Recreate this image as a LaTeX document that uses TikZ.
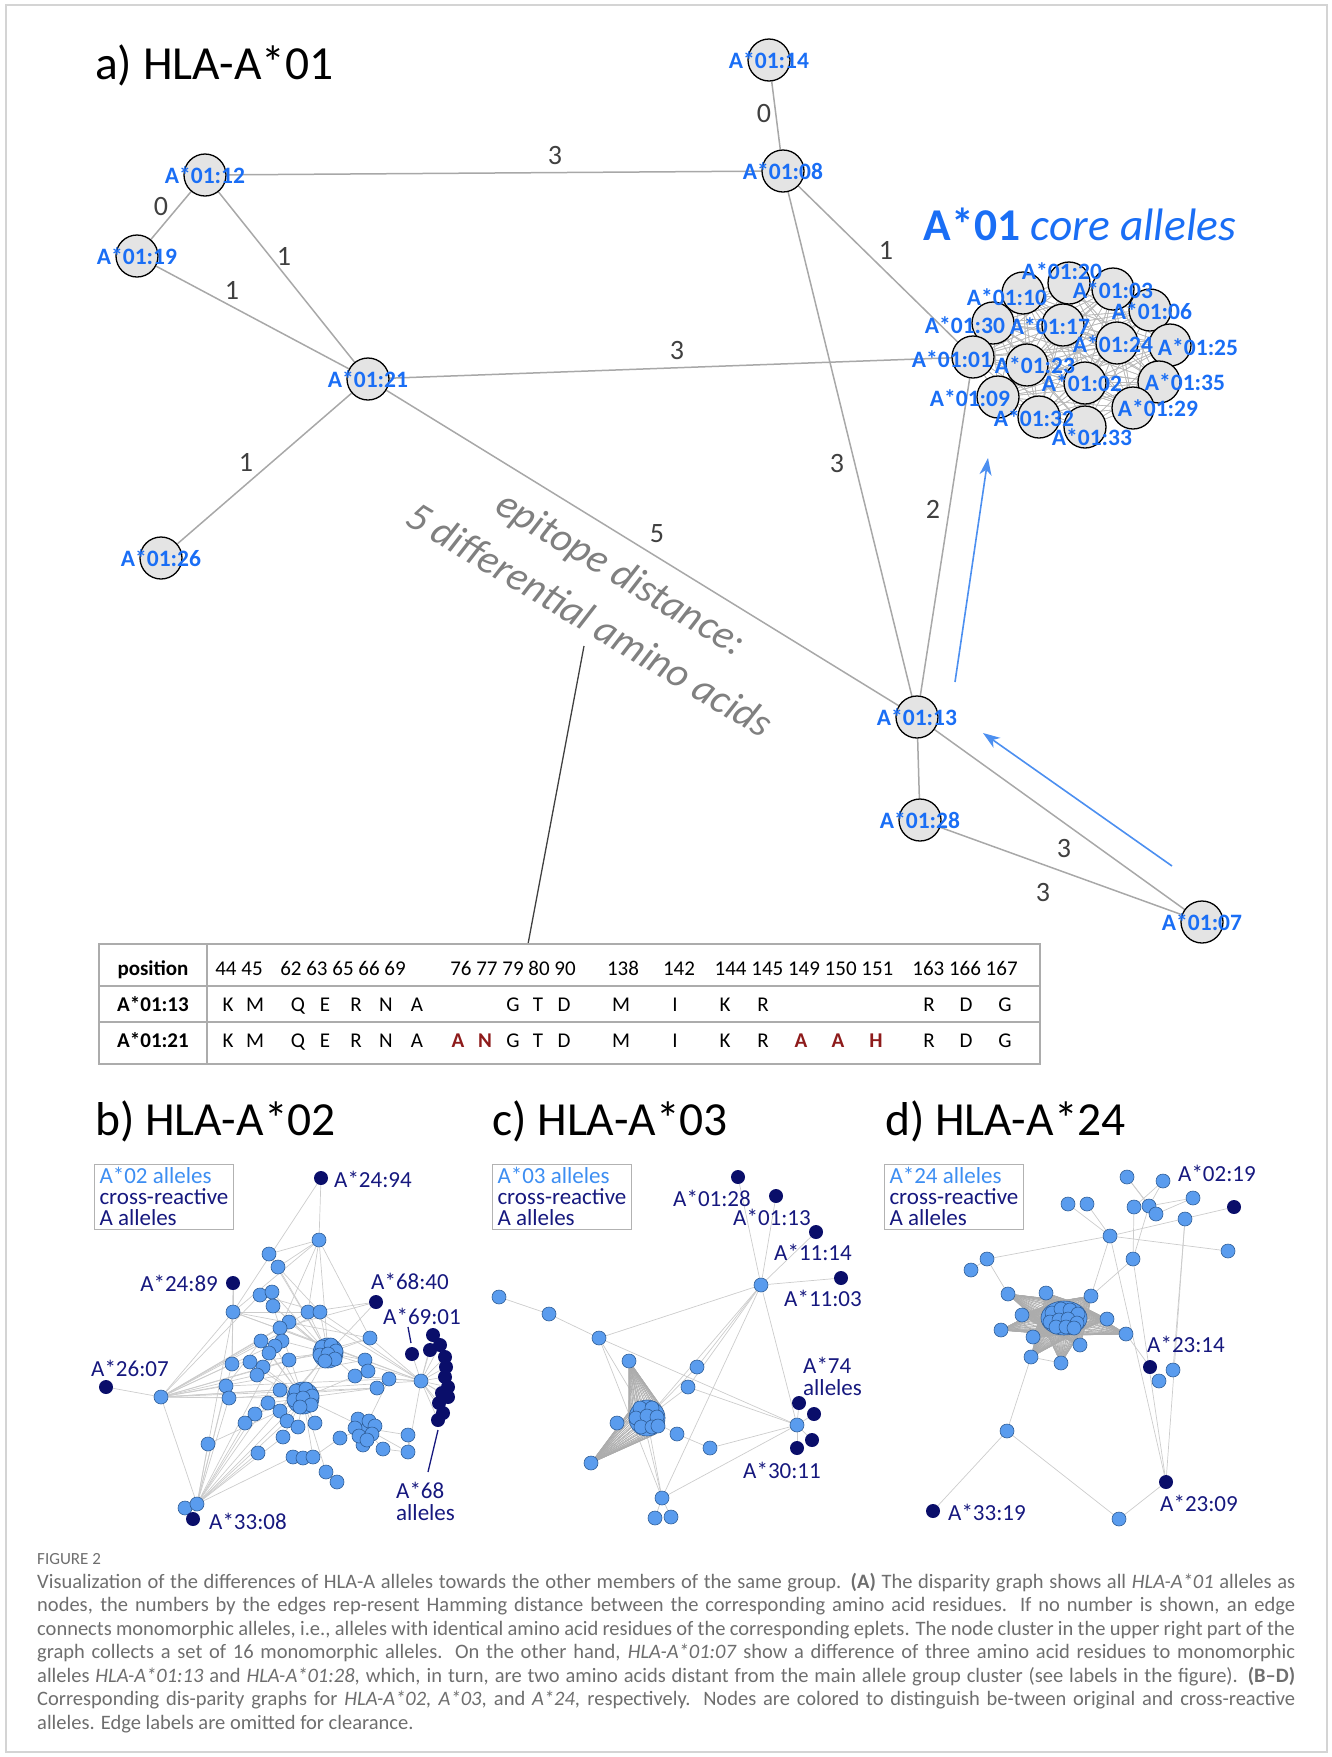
\documentclass[tikz,border=0pt]{standalone}
\usepackage{fontspec}
\setmainfont{Carlito}
\usetikzlibrary{arrows.meta,backgrounds,shapes.geometric}

\definecolor{hlablue}{HTML}{1A6EF5}
\definecolor{linkgray}{HTML}{A8A8A8}
\definecolor{numgray}{HTML}{404040}
\definecolor{cellgray}{HTML}{E4E4E4}
\definecolor{nodeblue}{HTML}{5A9CEE}
\definecolor{nodeedge}{HTML}{2F5D96}
\definecolor{navy}{HTML}{0A0E6A}
\definecolor{navytext}{HTML}{16187E}
\definecolor{legendblue}{HTML}{3D8EF2}
\definecolor{arrowblue}{HTML}{4C8FF0}
\definecolor{epigray}{HTML}{808080}
\definecolor{capgray}{HTML}{6E6E6E}
\definecolor{resred}{HTML}{8E1B1B}
\definecolor{framegray}{HTML}{D4D4D4}

\tikzset{
  allele/.style={circle,draw=black,fill=cellgray,line width=1.3pt,minimum size=42pt,inner sep=0pt},
  alab/.style={font=\bfseries\fontsize{23.5}{25}\selectfont,text=hlablue,inner sep=0pt},
  link/.style={draw=linkgray,line width=1.5pt},
  corelink/.style={draw=gray!55,line width=0.6pt},
  elab/.style={font=\fontsize{28}{30}\selectfont,text=numgray,inner sep=0pt},
  paneltitle/.style={font=\fontsize{47.5}{50}\selectfont,anchor=base west,inner sep=0pt},
  epi/.style={font=\itshape\fontsize{41}{43}\selectfont,text=epigray,inner sep=0pt,rotate=-31},
  flow/.style={draw=arrowblue,line width=1.6pt,-{Stealth[length=17pt,width=12pt,inset=5pt]}},
  tabline/.style={draw=gray!65,line width=1.5pt},
  tabtxt/.style={font=\fontsize{21}{22}\selectfont,inner sep=0pt,anchor=base},
  tabhead/.style={font=\bfseries\fontsize{21}{22}\selectfont,inner sep=0pt,anchor=base},
  pnode/.style={circle,draw=nodeedge,fill=nodeblue,line width=0.6pt,minimum size=14pt,inner sep=0pt},
  xnode/.style={circle,fill=navy,minimum size=14pt,inner sep=0pt},
  plab/.style={font=\fontsize{23}{22}\selectfont,text=navytext,inner sep=0pt},
  pedge/.style={draw=gray!40,line width=0.7pt},
  bundle/.style={draw=gray!65,line width=0.6pt},
  legendbox/.style={draw=gray!60,line width=1pt,anchor=north west,align=left,inner xsep=5pt,inner ysep=3pt,font=\fontsize{23}{21}\selectfont,text=navytext},
  captext/.style={anchor=north west,inner sep=0pt,align=left,font=\fontsize{20.5}{23.5}\selectfont,text=capgray}
}

\begin{document}
\begin{tikzpicture}[x=1pt,y=-1pt]
\useasboundingbox (0,0) rectangle (1332,1757);
% Frame
\draw[framegray,line width=1.2pt] (6,5) rectangle (1327,1752);

%%%%%%%% a) HLA-A*01 %%%%%%%%
\node[paneltitle] (ta) at (95,79) {a) HLA-A*01};

% Single alleles
\node[allele] (n14) at (769,60) {};
\node[allele] (n08) at (783,171) {};
\node[allele] (n12) at (205,175) {};
\node[allele] (n19) at (137,256) {};
\node[allele] (n21) at (368,379) {};
\node[allele] (n26) at (161,558) {};
\node[allele] (n13) at (917,717) {};
\node[allele] (n28) at (920,820) {};
\node[allele] (n07) at (1202,922) {};
\foreach \n in {14,08,12,19,21,26,13,28,07}
  \node[alab] (l\n) at (n\n) {A*01:\n};

% Core alleles
\node[font=\fontsize{45.5}{47}\selectfont,text=hlablue,inner sep=0pt] (tcore) at (1080,224)
  {\textbf{A*01} \textit{core alleles}};
\foreach \n/\x/\y in {20/1069/283, 10/1023/293, 03/1113/289, 06/1150/310, 30/993/323,
  17/1063/325, 24/1117/343, 25/1170/345, 01/973/357, 23/1027/365, 02/1085/383,
  35/1159/382, 09/998/397, 29/1133/408, 32/1039/417, 33/1085/427}
  \node[allele] (c\n) at (\x,\y) {};
\foreach \n/\x/\y in {20/1062/271, 10/1007/297, 03/1113/290, 06/1152/311, 30/965/325,
  17/1050/326, 24/1113/344, 25/1198/347, 01/952/359, 23/1035/365, 02/1082/383,
  35/1185/382, 09/970/398, 29/1158/408, 32/1034/418, 33/1092/437}
  \node[alab] (cl\n) at (\x,\y) {A*01:\n};

% Edges
\begin{scope}[on background layer]
\foreach \a in {20,10,03,06,30,17,24,25,01,23,02,35,09,29,32,33}
  \foreach \b in {20,10,03,06,30,17,24,25,01,23,02,35,09,29,32,33}
    \draw[corelink] (c\a) -- (c\b);
\draw[link] (n14) -- (n08);
\draw[link] (n12) -- (n08);
\draw[link] (n12) -- (n19);
\draw[link] (n12) -- (n21);
\draw[link] (n19) -- (n21);
\draw[link] (n21) -- (c01);
\draw[link] (n21) -- (n26);
\draw[link] (n21) -- (n13);
\draw[link] (n08) -- (c01);
\draw[link] (n08) -- (n13);
\draw[link] (n13) -- (c01);
\draw[link] (n13) -- (n28);
\draw[link] (n13) -- (n07);
\draw[link] (n28) -- (n07);
\end{scope}

% Hamming distances
\foreach \x/\y/\t [count=\k] in {764/114/0, 555/156/3, 161/207/0, 284/256/1, 232/290/1,
  677/351/3, 246/462/1, 657/534/5, 886/250/1, 837/464/3, 933/509/2, 1064/848/3, 1043/892/3}
  \node[elab] (e\k) at (\x,\y) {\t};

% Arrows
\coordinate (ua0) at (955,682);
\coordinate (ua1) at (988,458);
\coordinate (la0) at (1172,866);
\coordinate (la1) at (983,733);
\draw[flow] (ua0) -- (ua1);
\draw[flow] (la0) -- (la1);

% Epitope distance note
\node[epi] (ep1) at (620,575) {epitope distance:};
\node[epi] (ep2) at (590,619) {5 differential amino acids};
\coordinate (pt0) at (584,646);
\coordinate (pt1) at (528,944);
\draw[numgray,line width=1.3pt] (pt0) -- (pt1);

% Table
\draw[tabline] (99,944) rectangle (1040,1064);
\draw[tabline] (99,986) -- (1040,986);
\draw[tabline] (99,1022) -- (1040,1022);
\draw[tabline] (207,944) -- (207,1064);
\node[tabhead] (hpos) at (153,975) {position};
\node[tabhead] (h13) at (153,1011) {A*01:13};
\node[tabhead] (h21) at (153,1047) {A*01:21};
\foreach \x/\t [count=\k] in {239/44 45, 343/62 63 65 66 69, 513/76 77 79 80 90, 623/138,
  679/142, 804/144 145 149 150 151, 965/163 166 167}
  \node[tabtxt] (pos\k) at (\x,975) {\t};
\foreach \x/\t [count=\k] in {228/K, 255/M, 298/Q, 325/E, 356/R, 386/N, 417/A, 513/G,
  538/T, 564/D, 621/M, 675/I, 725/K, 763/R, 929/R, 966/D, 1005/G}
{
  \node[tabtxt] (ra\k) at (\x,1011) {\t};
  \node[tabtxt] (rb\k) at (\x,1047) {\t};
}
\foreach \x/\t [count=\k] in {458/A, 485/N, 801/A, 838/A, 876/H}
  \node[tabhead,text=resred] (rr\k) at (\x,1047) {\t};

%%%%%%%% b) HLA-A*02 %%%%%%%%
\node[paneltitle] (tb) at (95,1135) {b) HLA-A*02};
\node[legendbox] (lgb) at (94,1164) {\textcolor{legendblue}{A*02 alleles}\\cross-reactive\\A alleles};

\node[pnode,minimum size=30pt] (bc1) at (328,1353) {};
\node[pnode,minimum size=32pt] (bc2) at (303,1398) {};
\foreach \x/\y [count=\k] in {319/1240, 269/1254, 278/1267, 260/1295, 272/1292, 273/1306,
  233/1312, 308/1312, 320/1312, 289/1322, 280/1328, 261/1341, 282/1341, 275/1346,
  269/1353, 289/1360, 232/1364, 250/1362, 263/1367, 257/1375, 226/1386, 229/1398,
  280/1390, 268/1403, 255/1414, 280/1411, 245/1423, 287/1421, 298/1427, 315/1423,
  208/1444, 258/1453, 283/1437, 293/1457, 303/1458, 313/1457, 326/1472, 337/1482,
  340/1438, 370/1338, 365/1360, 368/1371, 355/1376, 377/1388, 389/1379, 421/1381,
  408/1435, 408/1452, 383/1449, 363/1445, 161/1397, 185/1508, 197/1504, 365/1428}
  \node[pnode] (b\k) at (\x,\y) {};
\foreach \dx/\dy [count=\k] in {-6/-6, 3/-8, 8/-2, -8/2, 0/1, 7/6, -3/8}
  \node[pnode] (bc1i\k) at (328+\dx,1353+\dy) {};
\foreach \dx/\dy [count=\k] in {-7/-7, 3/-9, 9/-2, -9/2, 0/0, 8/7, -3/9}
  \node[pnode] (bc2i\k) at (303+\dx,1398+\dy) {};
\foreach \dx/\dy [count=\k] in {-7/-9, 4/-7, 10/-2, -10/0, 7/6, -6/8, 2/12}
  \node[pnode] (bc3i\k) at (365+\dx,1428+\dy) {};

\node[xnode] (bx1) at (321,1178) {};
\node[xnode] (bx2) at (233,1283) {};
\node[xnode] (bx3) at (376,1302) {};
\node[xnode] (bx4) at (412,1354) {};
\node[xnode] (bx5) at (106,1387) {};
\node[xnode] (bx6) at (193,1519) {};
\foreach \x/\y [count=\k] in {433/1335, 440/1345, 430/1350, 445/1357, 446/1367, 445/1377,
  448/1387, 442/1393, 448/1397, 439/1403, 443/1413, 438/1420}
  \node[xnode] (bg\k) at (\x,\y) {};

\node[plab,anchor=west] (lbx1) at (334,1179) {A*24:94};
\node[plab,anchor=east] (lbx2) at (218,1283) {A*24:89};
\node[plab] (lbx3) at (410,1281) {A*68:40};
\node[plab] (lbx4) at (422,1316) {A*69:01};
\node[plab] (lbx5) at (130,1368) {A*26:07};
\node[plab,anchor=west] (lbx6) at (209,1521) {A*33:08};
\node[plab,anchor=west,align=left] (lbg) at (396,1501) {A*68\\alleles};
\coordinate (p69a) at (408,1327);
\coordinate (p69b) at (411,1343);
\coordinate (p68a) at (438,1430);
\coordinate (p68b) at (428,1472);
\draw[navytext,line width=1.3pt] (p69a) -- (p69b);
\draw[navytext,line width=1.3pt] (p68a) -- (p68b);

\begin{scope}[on background layer]
\foreach \a/\b in {bx1/b1, bx1/b7, b1/b2, b1/b3, b1/bc1, b1/b11, b1/b40, b1/b7,
  bx2/b7, bx2/b17, b51/bx5, b51/b7, b51/b53, b51/b4, b51/b10, b51/b12, b51/b13, b51/b16,
  b51/b17, b51/b20, b51/b21, b51/b22, b51/b23, b51/bc2, b51/b8, b51/b9, b51/b40, b51/b46,
  b53/b7, b53/b17, b53/b21, b53/b22, b53/b27, b53/b31, b53/b32, b53/bc2, b53/b24, b53/b28,
  b53/b33, b53/b34, b53/bc1, b53/b16, b53/b13, b53/b52, b53/bx6, b52/bx6,
  b46/bx4, b46/b40, b46/b45, b46/bc1, b46/b9, b46/b43, b46/b48, b46/b8, b46/b11, b46/b7,
  bx3/bc1, bx3/b8, bx3/b11, bc1/b8, bc1/b9, bc1/b10, bc1/b6, bc1/b13, bc1/b16, bc1/bc2,
  bc1/b40, bc1/b41, bc1/b43, bc1/b2, bc1/b3, bc1/b5, bc1/b26, bc1/b4,
  bc2/b24, bc2/b25, bc2/b26, bc2/b28, bc2/b29, bc2/b30, bc2/b33, bc2/b12, bc2/b14,
  bc2/b15, bc2/b19, bc2/b20, bc2/b23, bc2/b54, bc2/b43, bc2/b44, bc2/b36, bc2/b37,
  bc2/b6, bc2/b18, b54/b47, b54/b48, b54/b49, b54/b50, b54/b39, b54/b45, b39/b36,
  b34/b35, b37/b38, b47/b48, b49/b48, b7/b17, b2/b3, b4/b5, b12/b21, b7/b8, b4/b9,
  b7/b40, b7/b41, b17/bc1, b21/b45, b22/b44, b31/b26, b1/b8, b3/b9, b51/b41, b51/b44}
  \draw[pedge] (\a) -- (\b);
\foreach \k in {1,...,12}
  \draw[pedge] (b46) -- (bg\k);
\end{scope}

%%%%%%%% c) HLA-A*03 %%%%%%%%
\node[paneltitle] (tc) at (492,1135) {c) HLA-A*03};
\node[legendbox] (lgc) at (492,1164) {\textcolor{legendblue}{A*03 alleles}\\cross-reactive\\A alleles};

\node[pnode,minimum size=36pt] (cc) at (647,1418) {};
\foreach \dx/\dy [count=\k] in {-7/-10, 5/-10, -11/0, 0/-2, 10/-1, -6/9, 5/9, 11/8}
  \node[pnode] (cci\k) at (647+\dx,1418+\dy) {};
\foreach \x/\y [count=\k] in {761/1285, 499/1297, 549/1314, 599/1338, 629/1361, 697/1367,
  688/1387, 617/1423, 677/1434, 710/1448, 591/1463, 797/1425, 662/1498, 655/1518, 671/1517}
  \node[pnode] (c\k) at (\x,\y) {};
\foreach \x/\y [count=\k] in {738/1177, 776/1196, 816/1232, 841/1278, 799/1403,
  814/1414, 812/1440, 797/1448}
  \node[xnode] (cx\k) at (\x,\y) {};

\node[plab] (lcx1) at (712,1198) {A*01:28};
\node[plab] (lcx2) at (772,1217) {A*01:13};
\node[plab] (lcx3) at (813,1252) {A*11:14};
\node[plab] (lcx4) at (823,1298) {A*11:03};
\node[plab,anchor=west,align=left] (lcx5) at (803,1376) {A*74\\alleles};
\node[plab] (lcx8) at (782,1470) {A*30:11};

\begin{scope}[on background layer]
\foreach \a/\b in {c2/c3, c3/c4, c4/c1, c4/c12, c4/c13, c4/cc, c1/cx1, c1/cx2, c1/cx3,
  c1/cx4, c1/c12, c1/c6, c1/c7, c1/c13, c1/cc, c12/cx5, c12/cx6, c12/cx7, c12/cx8,
  c12/c10, c12/c13, c12/c7, c9/c10, cc/c9, cc/c8, c13/c14, c13/c15, c13/c5, c13/cc,
  c7/cc, c6/cc}
  \draw[pedge] (\a) -- (\b);
\foreach \s in {5,11}
  \foreach \a in {0,10,...,350}
    \draw[bundle] (c\s) -- (cc.\a);
\end{scope}

%%%%%%%% d) HLA-A*24 %%%%%%%%
\node[paneltitle] (td) at (885,1135) {d) HLA-A*24};
\node[legendbox] (lgd) at (884,1164) {\textcolor{legendblue}{A*24 alleles}\\cross-reactive\\A alleles};

\node[pnode,ellipse,minimum width=46pt,minimum height=34pt] (dc) at (1064,1318) {};
\foreach \dx/\dy [count=\k] in {-12/-5, -3/-9, 6/-8, 14/-4, -14/4, -5/2, 4/1, 13/5,
  -8/9, 2/9, 10/10}
  \node[pnode] (dci\k) at (1064+\dx,1318+\dy) {};
\foreach \x/\y [count=\k] in {1127/1177, 1163/1181, 1068/1204, 1087/1204, 1134/1207,
  1149/1206, 1156/1214, 1193/1198, 1185/1219, 1110/1236, 1228/1251, 987/1259, 971/1270,
  1133/1259, 1008/1294, 1046/1293, 1091/1296, 1022/1315, 1107/1319, 1001/1330, 1033/1337,
  1126/1334, 1080/1345, 1031/1357, 1061/1363, 1173/1370, 1159/1381, 1007/1431, 1119/1519}
  \node[pnode] (d\k) at (\x,\y) {};
\node[xnode] (dx1) at (1234,1207) {};
\node[xnode] (dx2) at (1150,1367) {};
\node[xnode] (dx3) at (1166,1482) {};
\node[xnode] (dx4) at (933,1511) {};

\node[plab,anchor=west] (ld2) at (1178,1173) {A*02:19};
\node[plab] (ldx2) at (1186,1344) {A*23:14};
\node[plab] (ldx3) at (1199,1503) {A*23:09};
\node[plab,anchor=west] (ldx4) at (948,1512) {A*33:19};

\begin{scope}[on background layer]
\foreach \a/\b in {d12/d13, d12/d10, d12/d15, d3/d10, d4/d10, d10/dx1, d10/d11, d10/d17,
  d10/dx3, d14/dx3, d14/d17, d14/d5, d14/d6, d1/d6, d1/d7, d2/d5, d2/d6, d6/d8, d7/d8,
  d9/d26, d9/dx3, d22/dx2, d24/d28, d28/dx4, d28/d29, d29/dx3, d24/d25}
  \draw[pedge] (\a) -- (\b);
\foreach \s in {15,...,25}
  \foreach \a in {0,10,...,350}
    \draw[bundle] (d\s) -- (dc.\a);
\end{scope}

%%%%%%%% Caption %%%%%%%%
\node[font=\fontsize{17}{20}\selectfont,text=capgray,anchor=west,inner sep=0pt] (fig) at (37,1559) {FIGURE 2};
\node[captext] (cap) at (37,1573) {%
\makebox[1258pt][s]{Visualization of the differences of HLA-A alleles towards the other members of the same group. \textbf{(A)} The disparity graph shows all \textit{HLA-A*01} alleles as}\\
\makebox[1258pt][s]{nodes, the numbers by the edges rep-resent Hamming distance between the corresponding amino acid residues. If no number is shown, an edge}\\
\makebox[1258pt][s]{connects monomorphic alleles, i.e., alleles with identical amino acid residues of the corresponding eplets. The node cluster in the upper right part of the}\\
\makebox[1258pt][s]{graph collects a set of 16 monomorphic alleles. On the other hand, \textit{HLA-A*01:07} show a difference of three amino acid residues to monomorphic}\\
\makebox[1258pt][s]{alleles \textit{HLA-A*01:13} and \textit{HLA-A*01:28}, which, in turn, are two amino acids distant from the main allele group cluster (see labels in the figure). \textbf{(B–D)}}\\
\makebox[1258pt][s]{Corresponding dis-parity graphs for \textit{HLA-A*02, A*03}, and \textit{A*24}, respectively. Nodes are colored to distinguish be-tween original and cross-reactive}\\
alleles. Edge labels are omitted for clearance.};
\end{tikzpicture}
\end{document}
